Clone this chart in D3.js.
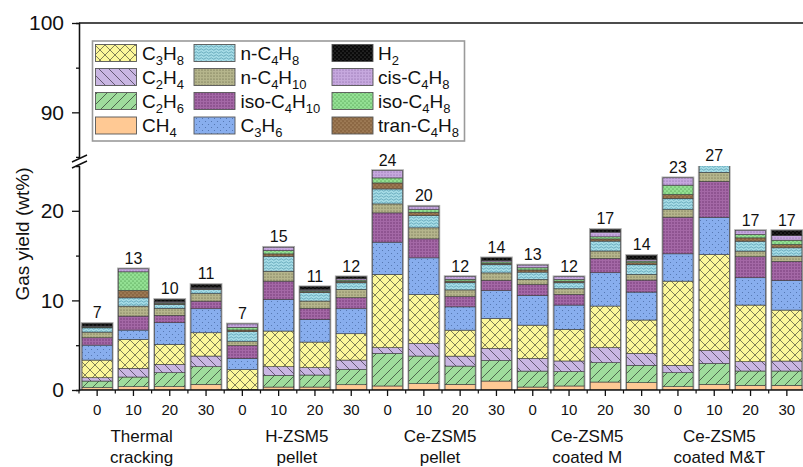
<!DOCTYPE html>
<html><head><meta charset="utf-8">
<script src="https://cdn.jsdelivr.net/npm/d3@7"></script>
<style>
html,body{margin:0;padding:0;background:#fff;}
svg{display:block;font-family:Arial,"Liberation Sans",sans-serif;}
</style></head>
<body><svg id="chart" width="803" height="467"></svg>
<script>
// ---------------- data ----------------
const groups = ["Thermal\ncracking","H-ZSM5\npellet","Ce-ZSM5\npellet","Ce-ZSM5\ncoated M","Ce-ZSM5\ncoated M&T"];
const xLabels = ["0","10","20","30","0","10","20","30","0","10","20","30","0","10","20","30","0","10","20","30"];
const totalLabels = [7,13,10,11,7,15,11,12,24,20,12,14,13,12,17,14,23,27,17,17];
// stacking order bottom -> top
const seriesNames = ["CH4","C2H6","C2H4","C3H8","C3H6","iso-C4H10","n-C4H10","n-C4H8","tran-C4H8","iso-C4H8","cis-C4H8","H2"];
const CH4      = [0.26,0.37,0.37,0.63, 0.00,0.33,0.33,0.59, 0.45,0.71,0.63,1.00, 0.33,0.45,0.89,0.82, 0.37,0.63,0.52,0.52];
const C2H6     = [0.74,1.08,1.56,1.97, 0.05,1.30,1.34,1.71, 3.64,3.08,2.04,2.30, 1.78,1.60,2.16,1.93, 1.56,2.34,1.60,1.60];
const C2H4     = [0.37,0.97,0.93,1.19, 0.00,0.97,0.82,1.04, 0.63,1.41,1.11,1.34, 1.41,1.19,1.67,1.34, 0.82,1.45,1.04,1.11];
const C3H8     = [1.97,3.23,2.23,2.60, 2.23,3.98,2.86,2.94, 8.18,5.46,2.90,3.34, 3.72,3.53,4.65,3.72, 9.40,10.70,6.32,5.69];
const C3H6     = [1.67,1.04,2.42,2.68, 1.26,3.53,2.53,2.79, 3.60,4.09,2.60,3.12, 3.31,2.71,3.72,3.12, 3.05,4.16,3.05,3.31];
const isoC4H10 = [0.82,1.56,0.82,0.85, 1.41,2.04,1.23,1.23, 3.27,2.12,1.15,1.15, 1.23,1.19,1.60,1.34, 4.09,4.01,2.34,2.12];
const nC4H10   = [0.63,1.11,0.78,0.85, 0.45,1.11,0.82,0.93, 1.00,1.23,0.74,0.82, 0.56,0.63,0.82,0.63, 0.85,1.00,0.63,0.59];
const nC4H8    = [0.48,0.93,0.45,0.45, 1.11,1.67,0.93,0.74, 1.67,1.37,0.82,0.93, 0.82,0.67,1.11,1.11, 1.23,1.10,1.11,0.93];
const tranC4H8 = [0.07,0.82,0.10,0.07, 0.19,0.26,0.12,0.15, 0.67,0.37,0.17,0.15, 0.24,0.18,0.24,0.19, 0.45,0.40,0.37,0.37];
const isoC4H8  = [0.06,2.08,0.10,0.06, 0.30,0.37,0.13,0.15, 0.56,0.30,0.20,0.15, 0.24,0.19,0.24,0.19, 1.04,0.80,0.37,0.48];
const cisC4H8  = [0.06,0.33,0.10,0.06, 0.37,0.37,0.12,0.15, 0.82,0.37,0.30,0.15, 0.30,0.30,0.52,0.18, 0.82,0.40,0.45,0.52];
const H2       = [0.30,0.00,0.25,0.37, 0.00,0.00,0.30,0.22, 0.00,0.00,0.00,0.30, 0.00,0.00,0.30,0.45, 0.00,0.00,0.00,0.56];
const seriesValues = [CH4,C2H6,C2H4,C3H8,C3H6,isoC4H10,nC4H10,nC4H8,tranC4H8,isoC4H8,cisC4H8,H2];
const legendColumns = [["C3H8","C2H4","C2H6","CH4"],["n-C4H8","n-C4H10","iso-C4H10","C3H6"],["H2","cis-C4H8","iso-C4H8","tran-C4H8"]];
const yTitle = "Gas yield (wt%)";

// ---------------- styles ----------------
const fills = {
  "CH4":"#FFC994","C2H6":"#9FDC9C","C2H4":"#C9B6E2","C3H8":"#FCF79A","C3H6":"#88AEEE",
  "iso-C4H10":"#A468A6","n-C4H10":"#B5B58C","n-C4H8":"#A6DCE6","tran-C4H8":"#8C6844",
  "iso-C4H8":"#93E093","cis-C4H8":"#C6A8DE","H2":"#0a0a0a"
};
const svg = d3.select("#chart");
const defs = svg.append("defs");
function pat(id, w, h, bg, draw){
  const p = defs.append("pattern").attr("id", id).attr("patternUnits","userSpaceOnUse").attr("width", w).attr("height", h);
  p.append("rect").attr("width", w).attr("height", h).attr("fill", bg);
  draw(p);
}
function dots(p, pts, r, c){ pts.forEach(([x,y]) => p.append("circle").attr("cx",x).attr("cy",y).attr("r",r).attr("fill",c)); }
pat("p-CH4",6,6,fills["CH4"],()=>{});
pat("p-C2H6",10,10,fills["C2H6"],p=>p.append("path").attr("d","M0,10L10,0M-5,5L5,-5M5,15L15,5").attr("stroke","#3a4a3a").attr("stroke-width",0.8));
pat("p-C2H4",10,10,fills["C2H4"],p=>p.append("path").attr("d","M0,0L10,10M-5,5L5,15M5,-5L15,5").attr("stroke","#4a4058").attr("stroke-width",0.8));
pat("p-C3H8",10,10,fills["C3H8"],p=>p.append("path").attr("d","M0,0L10,10M10,0L0,10").attr("stroke","#4a4a3a").attr("stroke-width",0.7));
pat("p-C3H6",6,6,fills["C3H6"],p=>dots(p,[[1.5,1.5],[4.5,4.5]],0.55,"#4d6fa8"));
pat("p-iso-C4H10",3,3,fills["iso-C4H10"],p=>dots(p,[[1,1]],0.7,"#6a2f6c"));
pat("p-n-C4H10",3,3,fills["n-C4H10"],p=>dots(p,[[1,1]],0.6,"#5c5c3e"));
pat("p-n-C4H8",5,3,fills["n-C4H8"],p=>p.append("path").attr("d","M0,1.5Q1.25,0 2.5,1.5T5,1.5").attr("fill","none").attr("stroke","#3f8aa0").attr("stroke-width",0.6));
pat("p-tran-C4H8",4,4,fills["tran-C4H8"],p=>dots(p,[[1,1],[3,3]],0.5,"#d8b890"));
pat("p-iso-C4H8",4,4,fills["iso-C4H8"],p=>dots(p,[[1,1],[3,3]],0.55,"#2f7a2f"));
pat("p-cis-C4H8",3,3,fills["cis-C4H8"],p=>dots(p,[[1,1]],0.55,"#7a5896"));
pat("p-H2",4,4,fills["H2"],p=>dots(p,[[1,1],[3,3]],0.5,"#777"));

// ---------------- scales ----------------
const x = d3.scaleBand().domain(d3.range(xLabels.length)).range([79, 805]).paddingInner(0.17).paddingOuter(0.085);
const yLow = d3.scaleLinear().domain([0,25]).range([390,166]);
const yUp = d3.scaleLinear().domain([85,100]).range([157,23]);

defs.append("clipPath").attr("id","clipLow").append("rect").attr("x",79).attr("y",166).attr("width",800).attr("height",224);

const table = xLabels.map((lab,i)=>{ const o={i}; seriesNames.forEach((s,k)=>o[s]=seriesValues[k][i]); return o; });
const stack = d3.stack().keys(seriesNames)(table);

const gBars = svg.append("g").attr("clip-path","url(#clipLow)");
gBars.selectAll("rect.halo").data(table).join("rect").attr("class","halo")
  .attr("x", d=>x(d.i)-0.5).attr("width", x.bandwidth()+1)
  .attr("y", d=>yLow(d3.sum(seriesNames,s=>d[s]))-0.5)
  .attr("height", d=>yLow(0)-yLow(d3.sum(seriesNames,s=>d[s]))+0.5)
  .attr("fill","none").attr("stroke","#aaa").attr("stroke-width",1.6);
stack.forEach(layer=>{
  gBars.append("g").selectAll("rect").data(layer.filter(d=>d[1]-d[0]>0)).join("rect")
    .attr("x", d=>x(d.data.i)).attr("width", x.bandwidth())
    .attr("y", d=>yLow(d[1])).attr("height", d=>yLow(d[0])-yLow(d[1]))
    .attr("fill", `url(#p-${layer.key})`).attr("stroke","#3a3a3a").attr("stroke-width",0.6);
});

svg.append("g").selectAll("text").data(table).join("text")
  .attr("x", d=>x(d.i)+x.bandwidth()/2)
  .attr("y", d=>yLow(Math.min(25, d3.sum(seriesNames,s=>d[s])))-5)
  .attr("text-anchor","middle").attr("font-size",16).attr("fill","#111")
  .text((d,i)=>totalLabels[i]);

// ---------------- axes ----------------
const axUp = svg.append("g").attr("transform","translate(79,0)")
  .call(d3.axisLeft(yUp).tickValues([90,100]).tickSize(7).tickSizeOuter(0).tickPadding(8));
svg.append("g").attr("transform","translate(79,0)")
  .call(d3.axisLeft(yUp).tickValues([95]).tickSize(3).tickFormat(""));
const axLow = svg.append("g").attr("transform","translate(79,0)")
  .call(d3.axisLeft(yLow).tickValues([0,10,20]).tickSize(7).tickSizeOuter(0).tickPadding(8));
svg.append("g").attr("transform","translate(79,0)")
  .call(d3.axisLeft(yLow).tickValues([5,15]).tickSize(3).tickFormat(""));
[axUp, axLow].forEach(a=>{
  a.selectAll("text").attr("font-size",21).attr("fill","#111").attr("font-family","Arial,'Liberation Sans',sans-serif");
});
svg.selectAll(".domain, .tick line").attr("stroke","#111").attr("stroke-width",1.3);

const axX = svg.append("g").attr("transform","translate(0,390)")
  .call(d3.axisBottom(x).tickSize(6).tickSizeOuter(0).tickPadding(8).tickFormat(i=>xLabels[i]));
axX.select(".domain").attr("d","M79,0H803");
axX.selectAll("text").attr("font-size",15).attr("fill","#111").attr("font-family","Arial,'Liberation Sans',sans-serif");
axX.selectAll(".domain, .tick line").attr("stroke","#111").attr("stroke-width",1.3);
svg.append("g").selectAll("line").data(d3.range(xLabels.length+1)).join("line")
  .attr("x1", i=>79 + x.step()*i).attr("x2", i=>79 + x.step()*i)
  .attr("y1",390).attr("y2",393.5).attr("stroke","#111").attr("stroke-width",1.2);

svg.append("line").attr("x1",79).attr("x2",803).attr("y1",23).attr("y2",23).attr("stroke","#111").attr("stroke-width",1.3);

svg.append("rect").attr("x",76).attr("y",158).attr("width",6).attr("height",7).attr("fill","#fff");
svg.append("path").attr("d","M72,162L87,155M72,168L87,161").attr("stroke","#111").attr("stroke-width",1.4);

// group labels (small layout nudges to match the original placement)
const groupNudge = [-10, 0, -2, 0, -13];
groups.forEach((g,gi)=>{
  const cx = (x(gi*4) + x(gi*4+3) + x.bandwidth())/2 + groupNudge[gi];
  const t = svg.append("text").attr("text-anchor","middle").attr("font-size",17).attr("fill","#111");
  g.split("\n").forEach((line,li)=>t.append("tspan").attr("x",cx).attr("y",442+li*20.5).text(line));
});

svg.append("text").attr("transform","translate(29,234) rotate(-90)").attr("text-anchor","middle")
  .attr("font-size",19).attr("fill","#111").text(yTitle);

// ---------------- legend ----------------
const lg = svg.append("g");
lg.append("rect").attr("x",92.5).attr("y",41).attr("width",372).attr("height",100)
  .attr("fill","#fff").attr("stroke","#9a9a9a").attr("stroke-width",1.6);
const colSw = [95.5, 194, 332];
const colTx = [142, 240.5, 378];
const rowY = [53, 77, 101, 125.5];
legendColumns.forEach((col,ci)=>col.forEach((name,ri)=>{
  lg.append("rect").attr("x",colSw[ci]).attr("y",rowY[ri]-8.5).attr("width",41).attr("height",17)
    .attr("fill",`url(#p-${name})`).attr("stroke","#555").attr("stroke-width",0.9);
  const t = lg.append("text").attr("x",colTx[ci]).attr("y",rowY[ri]+6.5).attr("font-size",19).attr("fill","#111");
  let shift = 0;
  name.split(/(\d+)/).filter(s=>s.length).forEach(part=>{
    if(/^\d+$/.test(part)){
      t.append("tspan").attr("font-size",13).attr("dy",5).text(part);
      shift = 5;
    } else {
      t.append("tspan").attr("dy",-shift).text(part);
      shift = 0;
    }
  });
}));
</script></body></html>
